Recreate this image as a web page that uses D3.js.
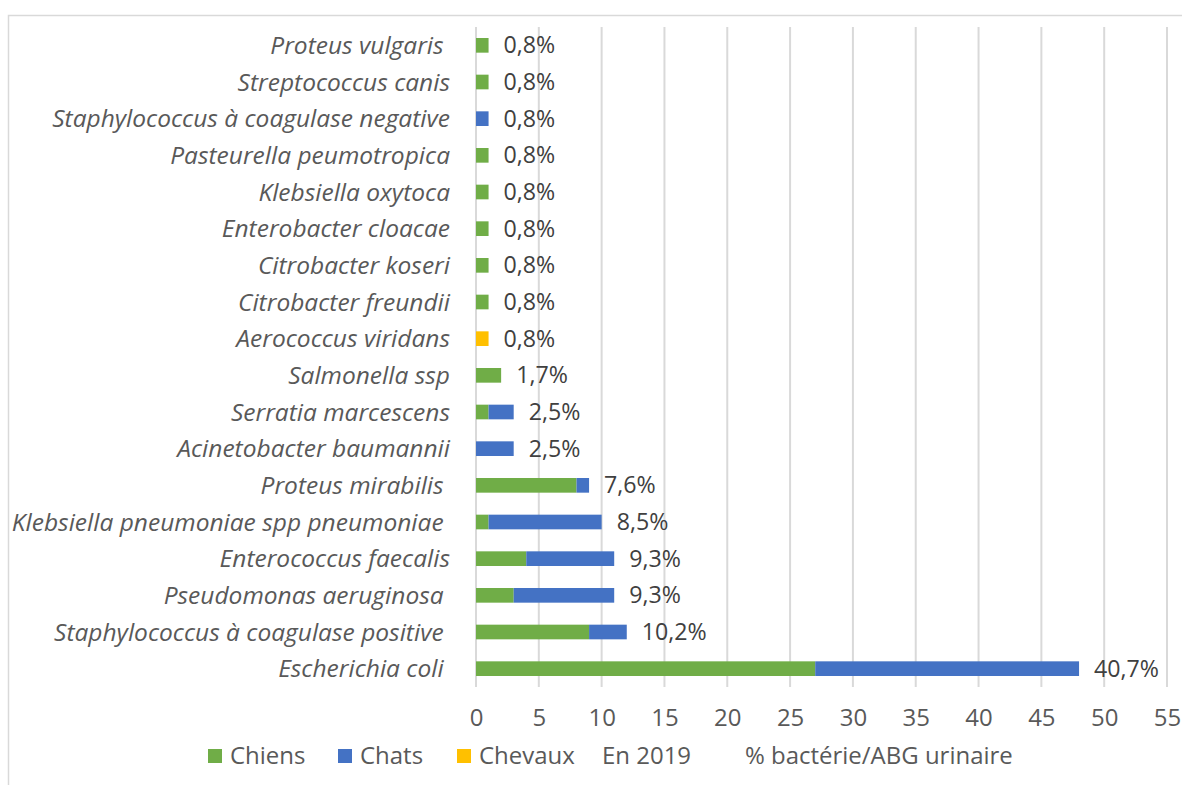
<!DOCTYPE html>
<html>
<head>
<meta charset="utf-8">
<script src="https://cdn.jsdelivr.net/npm/d3@7"></script>
<style>
  body { margin: 0; background: #fff; }
  svg { display: block; }
  text { white-space: pre; }
</style>
</head>
<body>
<svg id="chart" width="1182" height="785"></svg>
<script>
// bacteria, top to bottom as drawn
const bacteria = [
    'Proteus vulgaris ',
    'Streptococcus canis',
    'Staphylococcus à coagulase negative',
    'Pasteurella peumotropica',
    'Klebsiella oxytoca',
    'Enterobacter cloacae',
    'Citrobacter koseri',
    'Citrobacter freundii',
    'Aerococcus viridans',
    'Salmonella ssp',
    'Serratia marcescens',
    'Acinetobacter baumannii',
    'Proteus mirabilis ',
    'Klebsiella pneumoniae spp pneumoniae ',
    'Enterococcus faecalis',
    'Pseudomonas aeruginosa ',
    'Staphylococcus à coagulase positive ',
    'Escherichia coli ',
];
const chiens  = [1, 1, 0, 1, 1, 1, 1, 1, 0, 2, 1, 0, 8, 1, 4, 3, 9, 27];
const chats   = [0, 0, 1, 0, 0, 0, 0, 0, 0, 0, 2, 3, 1, 9, 7, 8, 3, 21];
const chevaux = [0, 0, 0, 0, 0, 0, 0, 0, 1, 0, 0, 0, 0, 0, 0, 0, 0, 0];
const pctLabels = ['0,8%', '0,8%', '0,8%', '0,8%', '0,8%', '0,8%', '0,8%', '0,8%', '0,8%',
    '1,7%', '2,5%', '2,5%', '7,6%', '8,5%', '9,3%', '9,3%', '10,2%', '40,7%'];
const xTicks = [0, 5, 10, 15, 20, 25, 30, 35, 40, 45, 50, 55];
const seriesNames = ['Chiens', 'Chats', 'Chevaux'];
const seriesColors = ['#70AD47', '#4472C4', '#FFC000'];
const extraLegend = ['En 2019', '% bactérie/ABG urinaire'];

const svg = d3.select('#chart');
const font = '"Open Sans", Lato, sans-serif';

// find a font size so that sample text gets the wanted width
const fitSize = (sample, targetWidth, italic) => {
    const t = svg.append('text')
        .attr('font-family', font)
        .attr('font-style', italic ? 'italic' : 'normal')
        .attr('font-size', 20)
        .text(sample);
    const w = t.node().getComputedTextLength();
    t.remove();
    return 20 * targetWidth / w;
}

const labelSize = fitSize('Staphylococcus à coagulase negative', 398, true);
const valueSize = fitSize('40,7%', 65, false);
const legendSize = fitSize('% bactérie/ABG urinaire', 268, false);

// outer chart border (right and bottom edges run off the picture)
svg.append('rect')
    .attr('x', 8.5).attr('y', 15.5)
    .attr('width', 1200).attr('height', 800)
    .attr('fill', 'none').attr('stroke', '#d9d9d9').attr('stroke-width', 1.5);

const xs = d3.scaleLinear().domain([0, 55]).range([476, 1167]);
const ys = d3.scaleBand().domain(bacteria).range([27, 687]).paddingInner(0.6).paddingOuter(0.3);

// vertical grid
svg.append('g')
    .selectAll('line')
    .data(xTicks)
    .enter()
    .append('line')
    .attr('x1', d => xs(d)).attr('x2', d => xs(d))
    .attr('y1', 27).attr('y2', 687)
    .attr('stroke', '#d9d9d9').attr('stroke-width', 2);

// stacked bars
const rows = bacteria.map((b, i) => ({ key: b, Chiens: chiens[i], Chats: chats[i], Chevaux: chevaux[i] }));
const stacked = d3.stack().keys(seriesNames)(rows);
svg.append('g')
    .selectAll('g')
    .data(stacked)
    .enter()
    .append('g')
    .attr('fill', (d, i) => seriesColors[i])
    .selectAll('rect')
    .data(d => d)
    .enter()
    .append('rect')
    .attr('x', d => xs(d[0]))
    .attr('width', d => xs(d[1]) - xs(d[0]))
    .attr('y', d => ys(d.data.key))
    .attr('height', ys.bandwidth());

// category labels
svg.append('g')
    .selectAll('text')
    .data(bacteria)
    .enter()
    .append('text')
    .attr('x', 450)
    .attr('y', d => ys(d) + ys.bandwidth() / 2)
    .attr('dy', '0.35em')
    .attr('text-anchor', 'end')
    .attr('font-family', font)
    .attr('font-style', 'italic')
    .attr('font-size', labelSize)
    .attr('fill', '#595959')
    .text(d => d);

// total labels
svg.append('g')
    .selectAll('text')
    .data(rows)
    .enter()
    .append('text')
    .attr('x', d => xs(d.Chiens + d.Chats + d.Chevaux) + 15)
    .attr('y', d => ys(d.key) + ys.bandwidth() / 2)
    .attr('dy', '0.35em')
    .attr('font-family', font)
    .attr('font-size', valueSize)
    .attr('fill', '#404040')
    .text((d, i) => pctLabels[i]);

// x axis tick labels
const axis = svg.append('g')
    .attr('transform', 'translate(0,709)')
    .call(d3.axisBottom(xs).tickValues(xTicks).tickSize(0).tickPadding(0));
axis.select('.domain').remove();
axis.selectAll('text')
    .attr('dy', '0.71em')
    .attr('font-family', font)
    .attr('font-size', legendSize)
    .attr('fill', '#595959');

// legend
const legend = svg.append('g').attr('font-family', font).attr('font-size', legendSize).attr('fill', '#595959');
const legendX = [208, 338, 457];
seriesNames.forEach((name, i) => {
    legend.append('rect')
        .attr('x', legendX[i]).attr('y', 749)
        .attr('width', 14).attr('height', 14)
        .attr('fill', seriesColors[i]);
    legend.append('text')
        .attr('x', legendX[i] + 22).attr('y', 756)
        .attr('dy', '0.35em')
        .text(name);
});
const extraX = [602, 745];
extraLegend.forEach((t, i) => {
    legend.append('text')
        .attr('x', extraX[i]).attr('y', 756)
        .attr('dy', '0.35em')
        .text(t);
});
</script>
</body>
</html>
